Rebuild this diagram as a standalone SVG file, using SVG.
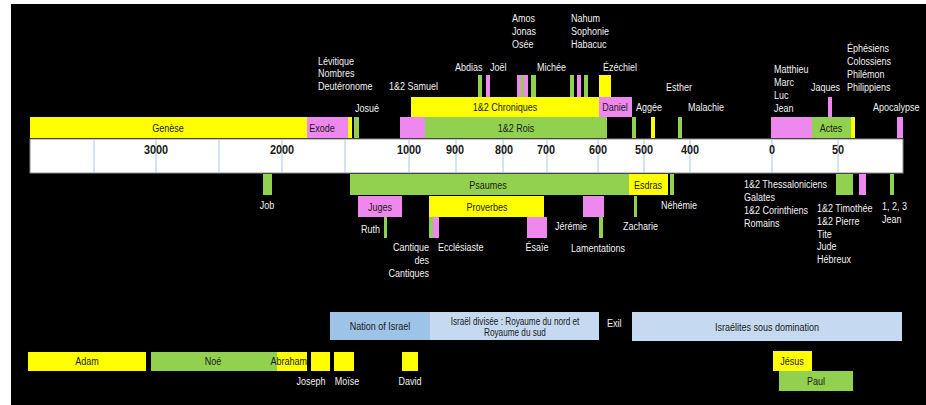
<svg xmlns="http://www.w3.org/2000/svg" width="926" height="405" viewBox="0 0 926 405">
<style>
text{font-family:"Liberation Sans",Arial,sans-serif;font-size:11px}
.w{fill:#f2f2f2}
.k{fill:#1a1a1a}
.m{text-anchor:middle}
.e{text-anchor:end}
.ax{font-weight:bold;font-size:12.5px;fill:#1a1a1a;text-anchor:middle}
.y{fill:#ffff00}
.g{fill:#92d050}
.p{fill:#ee88ee}
.b1{fill:#9dc3e6}
.b2{fill:#c5d9f1}
.grid{stroke:#a9c8e8;stroke-width:1}
.sm{font-size:10px}
</style>
<rect x="0" y="0" width="926" height="405" fill="#ffffff"/>
<rect x="11" y="4" width="915" height="401" fill="#000000"/>

<g id="axis">
<rect x="30" y="139" width="873" height="34" fill="#ffffff" stroke="#8c8c8c" stroke-width="1"/>
<g class="grid">
<line x1="94" y1="139" x2="94" y2="173"/>
<line x1="156" y1="139" x2="156" y2="173"/>
<line x1="219" y1="139" x2="219" y2="173"/>
<line x1="282" y1="139" x2="282" y2="173"/>
<line x1="345" y1="139" x2="345" y2="173"/>
<line x1="409" y1="139" x2="409" y2="173"/>
<line x1="456" y1="139" x2="456" y2="173"/>
<line x1="503" y1="139" x2="503" y2="173"/>
<line x1="547" y1="139" x2="547" y2="173"/>
<line x1="598" y1="139" x2="598" y2="173"/>
<line x1="644" y1="139" x2="644" y2="173"/>
<line x1="690" y1="139" x2="690" y2="173"/>
<line x1="772" y1="139" x2="772" y2="173"/>
<line x1="838" y1="139" x2="838" y2="173"/>
</g>
<text class="ax" transform="translate(156,154) scale(.87,1)">3000</text>
<text class="ax" transform="translate(282,154) scale(.87,1)">2000</text>
<text class="ax" transform="translate(409,154) scale(.87,1)">1000</text>
<text class="ax" transform="translate(455,154) scale(.87,1)">900</text>
<text class="ax" transform="translate(504,154) scale(.87,1)">800</text>
<text class="ax" transform="translate(546,154) scale(.87,1)">700</text>
<text class="ax" transform="translate(598,154) scale(.87,1)">600</text>
<text class="ax" transform="translate(644,154) scale(.87,1)">500</text>
<text class="ax" transform="translate(690,154) scale(.87,1)">400</text>
<text class="ax" transform="translate(772,154) scale(.87,1)">0</text>
<text class="ax" transform="translate(838,154) scale(.87,1)">50</text>
</g>

<g id="connectors"></g>

<!-- Old Testament top -->
<g id="genese"><rect class="y" x="30" y="117" width="277" height="21"/><text class="k m" transform="translate(168,132) scale(.82,1)">Genèse</text></g>
<g id="exode"><rect class="p" x="307" y="117" width="41" height="21"/><rect class="y" x="348" y="117" width="4" height="21"/><text class="k m" transform="translate(322,132) scale(.82,1)">Exode</text></g>
<g id="pentateuque"><text class="w" transform="translate(318,65) scale(.82,1)"><tspan x="0">Lévitique</tspan><tspan x="0" dy="12.5">Nombres</tspan><tspan x="0" dy="12.5">Deutéronome</tspan></text></g>
<g id="josue"><rect class="g" x="354" y="117" width="5" height="21"/><text class="w" transform="translate(355,112) scale(.82,1)">Josué</text></g>
<g id="samuel"><rect class="p" x="400" y="117" width="25" height="21"/><text class="w" transform="translate(389,90) scale(.82,1)">1&amp;2 Samuel</text></g>
<g id="rois"><rect class="g" x="425" y="117" width="182" height="21"/><text class="k m" transform="translate(516,132) scale(.82,1)">1&amp;2 Rois</text></g>
<g id="chroniques"><rect class="y" x="411" y="97" width="188" height="20"/><text class="k m" transform="translate(505,111) scale(.82,1)">1&amp;2 Chroniques</text></g>
<g id="daniel"><rect class="p" x="599" y="97" width="33" height="20"/><text class="k m" transform="translate(615,111) scale(.82,1)">Daniel</text></g>
<g id="ezechiel"><rect class="y" x="599" y="75" width="12" height="22"/><text class="w" transform="translate(603,71) scale(.82,1)">Ézéchiel</text></g>
<g id="abdias"><rect class="g" x="478" y="75" width="4" height="22"/><text class="w" transform="translate(455,71) scale(.82,1)">Abdias</text></g>
<g id="joel"><rect class="p" x="486" y="75" width="4" height="22"/><text class="w" transform="translate(490,71) scale(.82,1)">Joël</text></g>
<g id="amos-jonas-osee"><rect class="p" x="517" y="75" width="4" height="22"/><rect class="g" x="521" y="75" width="3" height="22"/><rect class="p" x="524" y="75" width="4" height="22"/><rect class="g" x="531" y="75" width="5" height="22"/><text class="w" transform="translate(512,22) scale(.82,1)"><tspan x="0">Amos</tspan><tspan x="0" dy="13">Jonas</tspan><tspan x="0" dy="13">Osée</tspan></text></g>
<g id="michee"><text class="w" transform="translate(537,71) scale(.82,1)">Michée</text></g>
<g id="nahum-sophonie-habacuc"><rect class="g" x="570" y="75" width="4" height="22"/><rect class="p" x="577" y="75" width="4" height="22"/><rect class="g" x="584" y="75" width="4" height="22"/><text class="w" transform="translate(571,22) scale(.82,1)"><tspan x="0">Nahum</tspan><tspan x="0" dy="13">Sophonie</tspan><tspan x="0" dy="13">Habacuc</tspan></text></g>
<g id="aggee"><rect class="g" x="632" y="117" width="4" height="21"/><text class="w" transform="translate(636,111) scale(.82,1)">Aggée</text></g>
<g id="esther"><rect class="y" x="651" y="117" width="4" height="21"/><text class="w" transform="translate(666,91) scale(.82,1)">Esther</text></g>
<g id="malachie"><rect class="g" x="678" y="117" width="4" height="21"/><text class="w" transform="translate(688,111) scale(.82,1)">Malachie</text></g>

<!-- New Testament top -->
<g id="evangiles"><rect class="p" x="771" y="117" width="41" height="21"/><text class="w" transform="translate(774,73) scale(.82,1)"><tspan x="0">Matthieu</tspan><tspan x="0" dy="13">Marc</tspan><tspan x="0" dy="13">Luc</tspan><tspan x="0" dy="13">Jean</tspan></text></g>
<g id="actes"><rect class="g" x="812" y="117" width="39" height="21"/><rect class="y" x="851" y="117" width="4" height="21"/><text class="k m" transform="translate(831,132) scale(.82,1)">Actes</text></g>
<g id="jaques"><rect class="p" x="828" y="97" width="4" height="20"/><text class="w" transform="translate(811,91) scale(.82,1)">Jaques</text></g>
<g id="epitres-prison"><text class="w" transform="translate(847,52) scale(.82,1)"><tspan x="0">Éphésiens</tspan><tspan x="0" dy="13">Colossiens</tspan><tspan x="0" dy="13">Philémon</tspan><tspan x="0" dy="13">Philippiens</tspan></text></g>
<g id="apocalypse"><rect class="p" x="897" y="117" width="6" height="21"/><text class="w" transform="translate(873,111) scale(.82,1)">Apocalypse</text></g>

<!-- below axis -->
<g id="job"><rect class="g" x="263" y="174" width="9" height="21"/><text class="w m" transform="translate(267,209) scale(.82,1)">Job</text></g>
<g id="psaumes"><rect class="g" x="350" y="174" width="279" height="21"/><text class="k m" transform="translate(488,189) scale(.82,1)">Psaumes</text></g>
<g id="esdras"><rect class="y" x="629" y="174" width="39" height="21"/><text class="k m" transform="translate(648,189) scale(.82,1)">Esdras</text></g>
<g id="nehemie"><rect class="g" x="670" y="174" width="4" height="21"/><text class="w" transform="translate(661,209) scale(.82,1)">Néhémie</text></g>
<g id="juges"><rect class="p" x="358" y="196" width="44" height="21"/><text class="k m" transform="translate(380,211) scale(.82,1)">Juges</text></g>
<g id="ruth"><rect class="g" x="384" y="217" width="3" height="21"/><text class="w e" transform="translate(380,233) scale(.82,1)">Ruth</text></g>
<g id="proverbes"><rect class="y" x="429" y="196" width="115" height="21"/><text class="k m" transform="translate(487,211) scale(.82,1)">Proverbes</text></g>
<g id="cantique"><rect class="g" x="429" y="217" width="4" height="21"/><text class="w e" transform="translate(429,251) scale(.82,1)"><tspan x="0">Cantique</tspan><tspan x="0" dy="13">des</tspan><tspan x="0" dy="13">Cantiques</tspan></text></g>
<g id="ecclesiaste"><rect class="p" x="433" y="217" width="6" height="21"/><text class="w" transform="translate(438,251) scale(.82,1)">Ecclésiaste</text></g>
<g id="esaie"><rect class="p" x="527" y="217" width="20" height="21"/><text class="w m" transform="translate(537,251) scale(.82,1)">Ésaïe</text></g>
<g id="jeremie"><rect class="p" x="583" y="196" width="21" height="21"/><text class="w" transform="translate(555,230) scale(.82,1)">Jérémie</text></g>
<g id="lamentations"><rect class="g" x="599" y="217" width="4" height="21"/><text class="w" transform="translate(571,252) scale(.82,1)">Lamentations</text></g>
<g id="zacharie"><rect class="g" x="634" y="196" width="3" height="21"/><text class="w" transform="translate(623,230) scale(.82,1)">Zacharie</text></g>

<g id="epitres-paul"><rect class="g" x="836" y="174" width="17" height="21"/><text class="w" transform="translate(744,188) scale(.82,1)"><tspan x="0">1&amp;2 Thessaloniciens</tspan><tspan x="0" dy="13">Galates</tspan><tspan x="0" dy="13">1&amp;2 Corinthiens</tspan><tspan x="0" dy="13">Romains</tspan></text></g>
<g id="epitres-tardives"><rect class="p" x="859" y="174" width="7" height="21"/><text class="w" transform="translate(817,212) scale(.82,1)"><tspan x="0">1&amp;2 Timothée</tspan><tspan x="0" dy="12.8">1&amp;2 Pierre</tspan><tspan x="0" dy="12.8">Tite</tspan><tspan x="0" dy="12.8">Jude</tspan><tspan x="0" dy="12.8">Hébreux</tspan></text></g>
<g id="jean-epitres"><rect class="g" x="890" y="174" width="4" height="21"/><text class="w" transform="translate(882,210) scale(.82,1)"><tspan x="0">1, 2, 3</tspan><tspan x="0" dy="13">Jean</tspan></text></g>

<!-- history -->
<g id="nation"><rect class="b1" x="330" y="312" width="100" height="28"/><text class="k m" transform="translate(380,330) scale(.82,1)">Nation of Israel</text></g>
<g id="divisee"><rect class="b2" x="430" y="312" width="169" height="28"/><text class="k m sm" transform="translate(515,325) scale(.82,1)"><tspan x="0">Israël divisée : Royaume du nord et</tspan><tspan x="0" dy="11">Royaume du sud</tspan></text></g>
<g id="exil"><text class="w" transform="translate(607,327) scale(.82,1)">Exil</text></g>
<g id="domination"><rect class="b2" x="632" y="312" width="270" height="29"/><text class="k m" transform="translate(767,331) scale(.82,1)">Israélites sous domination</text></g>

<g id="adam"><rect class="y" x="28" y="352" width="118" height="19"/><text class="k m" transform="translate(87,365) scale(.82,1)">Adam</text></g>
<g id="noe"><rect class="g" x="151" y="352" width="126" height="19"/><text class="k m" transform="translate(213,365) scale(.82,1)">Noé</text></g>
<g id="abraham"><rect class="y" x="277" y="352" width="30" height="19"/><text class="k e" transform="translate(307,365) scale(.82,1)">Abraham</text></g>
<g id="joseph"><rect class="y" x="311" y="352" width="19" height="19"/><text class="w m" transform="translate(311,385) scale(.82,1)">Joseph</text></g>
<g id="moise"><rect class="y" x="334" y="352" width="20" height="19"/><text class="w m" transform="translate(347,385) scale(.82,1)">Moïse</text></g>
<g id="david"><rect class="y" x="402" y="352" width="16" height="19"/><text class="w m" transform="translate(410,385) scale(.82,1)">David</text></g>
<g id="jesus"><rect class="y" x="773" y="351" width="39" height="20"/><text class="k m" transform="translate(792,365) scale(.82,1)">Jésus</text></g>
<g id="paul"><rect class="g" x="779" y="371" width="74" height="20"/><text class="k m" transform="translate(816,385) scale(.82,1)">Paul</text></g>
</svg>
